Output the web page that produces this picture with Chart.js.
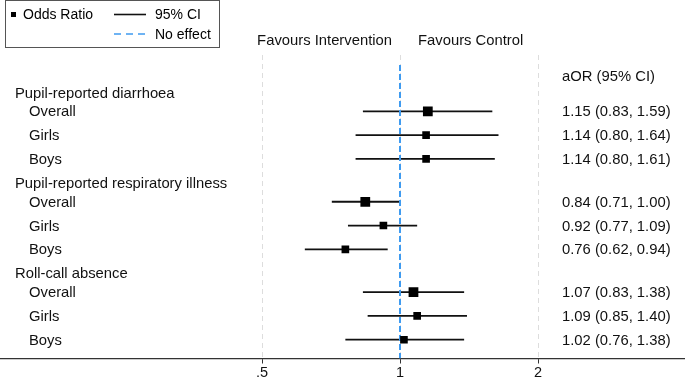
<!DOCTYPE html>
<html>
<head>
<meta charset="utf-8">
<script src="https://cdn.jsdelivr.net/npm/chart.js@4/dist/chart.umd.min.js"></script>
<style>
  html, body { margin: 0; padding: 0; background: #fff; }
  #wrap { width: 685px; height: 382px; }
</style>
</head>
<body>
<div id="wrap"><canvas id="forest"></canvas></div>
<script>
// groups and rows of the forest plot
const groups = ['Pupil-reported diarrhoea', 'Pupil-reported respiratory illness', 'Roll-call absence'];
const groupRowPos = [-0.75, 3.05, 6.85];
const subgroups = ['Overall', 'Girls', 'Boys', 'Overall', 'Girls', 'Boys', 'Overall', 'Girls', 'Boys'];
const rowPos = [0, 1, 2, 3.8, 4.8, 5.8, 7.6, 8.6, 9.6];

// adjusted odds ratios with 95% CI
const oddsRatio = [1.15, 1.14, 1.14, 0.84, 0.92, 0.76, 1.07, 1.09, 1.02];
const ciLow = [0.83, 0.80, 0.80, 0.71, 0.77, 0.62, 0.83, 0.85, 0.76];
const ciHigh = [1.59, 1.64, 1.61, 1.00, 1.09, 0.94, 1.38, 1.40, 1.38];

const xTicks = [0.5, 1, 2];
const xTickLabels = ['.5', '1', '2'];

const FONT = '"Liberation Sans", Arial, Helvetica, sans-serif';
const BLUE = '#3f9bf0';

const fmt = v => v.toFixed(2);

// one small dataset per confidence interval
const ciSets = oddsRatio.map((or, i) => ({
  type: 'line',
  data: [{ x: ciLow[i], y: rowPos[i] }, { x: ciHigh[i], y: rowPos[i] }],
  borderColor: '#111',
  borderWidth: 1.8,
  pointRadius: 0,
  order: 2
}));

const textPlugin = {
  id: 'forestText',
  afterDraw(chart) {
    const ctx = chart.ctx;
    const x = chart.scales.x;
    const y = chart.scales.y;
    ctx.save();
    ctx.fillStyle = '#111';
    ctx.textBaseline = 'middle';
    ctx.font = '14.8px ' + FONT;

    // row labels
    groups.forEach((g, i) => {
      ctx.textAlign = 'left';
      ctx.fillText(g, 15, y.getPixelForValue(groupRowPos[i]));
    });
    subgroups.forEach((s, i) => {
      ctx.fillText(s, 29, y.getPixelForValue(rowPos[i]) + 1);
    });

    // estimate column
    ctx.fillText('aOR (95% CI)', 562, y.getPixelForValue(-1.44));
    oddsRatio.forEach((or, i) => {
      const t = fmt(or) + ' (' + fmt(ciLow[i]) + ', ' + fmt(ciHigh[i]) + ')';
      ctx.fillText(t, 562, y.getPixelForValue(rowPos[i]) + 1);
    });

    // direction headers
    const x1 = x.getPixelForValue(1);
    const yHead = y.getPixelForValue(-2.97);
    ctx.textAlign = 'right';
    ctx.fillText('Favours Intervention', x1 - 8, yHead);
    ctx.textAlign = 'left';
    ctx.fillText('Favours Control', x1 + 18, yHead);

    // legend box
    ctx.strokeStyle = '#555';
    ctx.lineWidth = 1;
    ctx.strokeRect(5.5, 0.5, 214, 47);
    ctx.fillStyle = '#000';
    ctx.fillRect(11, 12, 5, 5);
    ctx.font = '14px ' + FONT;
    ctx.fillText('Odds Ratio', 23, 15);
    ctx.beginPath();
    ctx.moveTo(114, 14.5);
    ctx.lineTo(146, 14.5);
    ctx.lineWidth = 1.6;
    ctx.strokeStyle = '#111';
    ctx.stroke();
    ctx.fillText('95% CI', 155, 15);
    ctx.beginPath();
    ctx.setLineDash([7, 5]);
    ctx.moveTo(114, 34);
    ctx.lineTo(146, 34);
    ctx.strokeStyle = BLUE;
    ctx.stroke();
    ctx.setLineDash([]);
    ctx.fillText('No effect', 155, 35);
    ctx.restore();
  }
};

new Chart(document.getElementById('forest'), {
  type: 'scatter',
  data: {
    datasets: [
      {
        data: oddsRatio.map((or, i) => ({ x: or, y: rowPos[i] })),
        pointStyle: 'rect',
        pointRadius: c => subgroups[c.dataIndex] === 'Overall' ? 6.9 : 5.4,
        backgroundColor: '#000',
        borderColor: '#000',
        borderWidth: 0,
        order: 0
      },
      {
        type: 'line',
        data: [{ x: 1, y: -1.95 }, { x: 1, y: 10.39 }],
        borderColor: BLUE,
        borderWidth: 2,
        borderDash: [6, 3],
        pointRadius: 0,
        order: 1
      },
      ...ciSets
    ]
  },
  options: {
    responsive: true,
    maintainAspectRatio: false,
    animation: false,
    events: [],
    layout: { autoPadding: false, padding: { top: 55, left: 0, right: 0, bottom: 0 } },
    plugins: { legend: { display: false }, tooltip: { enabled: false } },
    scales: {
      x: {
        type: 'logarithmic',
        min: 0.1341,
        max: 4.185,
        afterBuildTicks: s => { s.ticks = xTicks.map(v => ({ value: v })); },
        afterFit: s => { s.paddingLeft = 0; s.paddingRight = 0; },
        ticks: {
          color: '#111',
          padding: 2,
          maxRotation: 0,
          autoSkip: false,
          font: { family: FONT, size: 14.5, lineHeight: 1 },
          callback: (v) => xTickLabels[xTicks.indexOf(v)]
        },
        grid: {
          color: '#dddddd',
          lineWidth: 1,
          tickColor: '#333',
          tickLength: 5,
          tickWidth: 1
        },
        border: { display: true, color: '#333', width: 1.2, dash: [5, 4] }
      },
      y: {
        type: 'linear',
        display: false,
        reverse: true,
        min: -2.37,
        max: 10.39
      }
    }
  },
  plugins: [textPlugin]
});
</script>
</body>
</html>
